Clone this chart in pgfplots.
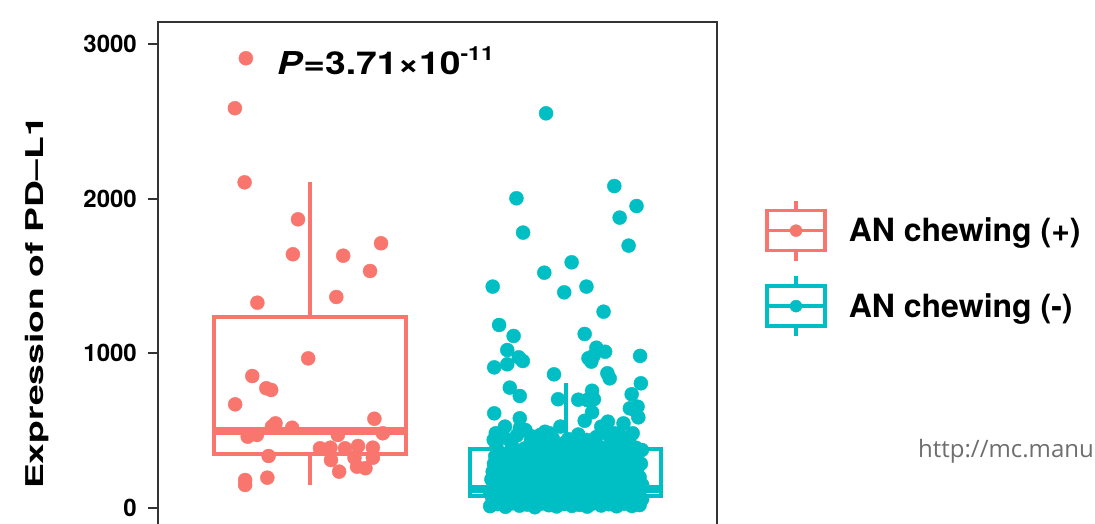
\documentclass[border=0pt]{standalone}
\usepackage{pgfplots}
\pgfplotsset{compat=1.18}
\usepackage{pgfplotstable}
\usepackage{fontspec}
\setmainfont{TeX Gyre Heros}
\newfontfamily\wmfont{Open Sans}
\definecolor{redc}{HTML}{F8766D}
\definecolor{tealc}{HTML}{00BFC4}
\definecolor{axc}{HTML}{333333}
\definecolor{wmc}{HTML}{6E6E6E}

\pgfplotstableread{
x y
0.749 2907
0.706 2584
0.744 2105
0.953 1866
1.278 1711
0.933 1640
1.130 1631
1.235 1532
1.103 1364
0.794 1327
0.993 967
0.774 853
0.829 774
0.848 763
0.707 670
1.252 577
0.865 547
0.851 526
0.930 519
0.756 461
0.792 472
1.109 472
1.285 483
0.838 336
1.039 386
1.080 390
1.137 386
1.188 401
1.246 390
1.082 310
1.174 325
1.246 325
1.114 235
1.184 267
1.217 257
0.833 196
0.746 181
0.746 149
}\redpts

\pgfplotstableread{
x y
1.924 2551
1.808 2002
2.191 2081
2.278 1952
2.212 1877
1.834 1780
2.247 1696
2.024 1588
1.917 1521
1.715 1431
1.995 1394
2.082 1431
2.149 1269
1.740 1183
1.797 1112
2.075 1125
1.772 1021
2.121 1036
2.155 1010
1.817 974
1.833 950
2.292 983
1.721 909
1.772 929
2.101 946
2.110 985
2.090 968
1.955 864
2.164 871
2.173 838
2.295 806
1.782 778
1.821 724
2.104 758
1.971 703
2.050 700
2.085 698
2.111 703
2.259 735
2.282 655
2.270 634
2.252 644
2.285 586
1.721 612
1.821 580
2.075 564
2.104 619
2.227 547
2.166 558
2.140 526
1.763 526
1.821 515
1.843 504
1.980 526
1.920 493
2.263 483
1.727 483
1.719 440
1.901 472
1.937 483
1.865 440
1.995 418
2.082 440
2.191 483
2.299 375
1.760 455
1.810 470
1.870 462
1.950 450
2.010 445
2.050 475
2.120 458
2.170 468
2.210 480
2.250 452
1.730 392
1.790 405
1.840 385
1.885 415
1.930 398
1.975 380
2.020 410
2.060 395
2.100 420
2.145 388
2.185 402
2.230 412
2.275 390
1.725 335
1.770 348
1.815 330
1.855 352
1.900 340
1.940 345
1.985 332
2.030 355
2.065 338
2.105 350
2.150 333
2.190 346
2.235 341
2.270 354
1.720 285
1.760 298
1.800 280
1.840 302
1.875 290
1.910 278
1.950 300
1.990 287
2.030 295
2.070 283
2.100 305
2.140 289
2.180 297
2.220 281
2.260 293
2.295 286
1.715 235
1.760 248
1.795 230
1.830 252
1.865 238
1.900 245
1.935 228
1.970 255
2.005 240
2.040 233
2.075 250
2.110 236
2.145 246
2.180 231
2.215 253
2.250 239
2.280 244
1.710 185
1.745 198
1.780 180
1.810 202
1.840 188
1.875 195
1.910 178
1.945 205
1.980 190
2.015 183
2.045 200
2.080 187
2.110 196
2.140 181
2.170 203
2.205 189
2.235 194
2.265 184
2.290 199
1.720 140
1.755 152
1.785 135
1.815 158
1.845 146
1.875 138
1.905 160
1.940 143
1.970 150
2.000 137
2.030 155
2.060 148
2.090 142
2.120 157
2.150 139
2.180 151
2.210 145
2.240 159
2.270 136
2.300 149
1.705 95
1.740 108
1.770 92
1.800 112
1.830 100
1.860 88
1.890 105
1.920 115
1.950 97
1.975 102
2.005 110
2.035 90
2.065 104
2.095 98
2.130 113
2.160 94
2.190 107
2.220 99
2.250 111
2.285 96
1.715 55
1.750 68
1.780 48
1.810 62
1.840 72
1.870 50
1.895 65
1.925 58
1.955 45
1.980 70
2.010 60
2.040 52
2.070 66
2.100 49
2.125 63
2.155 74
2.185 56
2.215 61
2.245 47
2.275 69
2.300 58
1.705 12
1.735 25
1.765 8
1.790 30
1.820 15
1.850 22
1.880 5
1.905 28
1.935 18
1.965 10
1.995 26
2.025 14
2.055 20
2.085 9
2.110 30
2.140 16
2.170 24
2.200 11
2.230 27
2.260 13
2.290 19
}\tealpts

\begin{document}
\begin{tikzpicture}
\begin{axis}[
  at={(0pt,0pt)}, anchor=south west,
  scale only axis, width=559pt, height=509.3pt,
  xmin=0.405, xmax=2.593, ymin=-150, ymax=3142,
  xtick=\empty, ytick={0,1000,2000,3000}, ytick pos=left,
  tick align=outside, major tick length=10pt,
  every tick/.style={axc, line width=2pt},
  axis line style={axc, line width=2pt},
  yticklabel style={font=\fontsize{24}{24}\selectfont\bfseries, inner sep=0pt, xshift=-11pt},
  /pgf/number format/assume math mode=true,
  /pgf/number format/1000 sep={},
  ylabel={\scalebox{1.52}[1]{Expression of PD--L1}},
  every axis y label/.style={at={(axis description cs:-0.216,0.449)}, rotate=90, anchor=center, font=\fontsize{24.5}{24.5}\selectfont\bfseries},
  legend style={at={(1.086,0.516)}, anchor=west, draw=none, fill=none, inner sep=0pt,
    font=\fontsize{32}{32}\selectfont\bfseries, row sep=12pt,
    /tikz/every odd column/.append style={column sep=20pt}},
  legend cell align=left,
]
% boxplot (+): whiskers, box, median
\addplot[forget plot, redc, line width=4pt] coordinates {(1,150) (1,349)};
\addplot[forget plot, redc, line width=4pt] coordinates {(1,1235) (1,2105)};
\addplot[forget plot, redc, line width=4pt, line join=miter] coordinates {(0.625,349) (1.375,349) (1.375,1235) (0.625,1235) (0.625,349) (1.375,349)};
\addplot[forget plot, redc, line width=8pt] coordinates {(0.625,498) (1.375,498)};
% boxplot (-)
\addplot[forget plot, tealc, line width=4pt] coordinates {(2,5) (2,78)};
\addplot[forget plot, tealc, line width=4pt] coordinates {(2,381) (2,806)};
\addplot[forget plot, tealc, line width=4pt, line join=miter] coordinates {(1.625,78) (2.375,78) (2.375,381) (1.625,381) (1.625,78) (2.375,78)};
\addplot[forget plot, tealc, line width=8pt] coordinates {(1.625,120) (2.375,120)};
\addplot[forget plot, only marks, mark=*, mark size=7pt, color=redc, mark options={draw=none, fill=redc}] table[x=x, y=y] {\redpts};
\addplot[forget plot, only marks, mark=*, mark size=7pt, color=tealc, mark options={draw=none, fill=tealc}] table[x=x, y=y] {\tealpts};
\addlegendimage{legend image code/.code={
  \draw[redc, line width=3.5pt] (29pt,-30pt) -- (29pt,-20pt) (29pt,20pt) -- (29pt,30pt);
  \draw[redc, line width=3.5pt] (0pt,-20pt) rectangle (58pt,20pt);
  \draw[redc, line width=3.5pt] (0pt,0pt) -- (58pt,0pt);
  \fill[redc] (29pt,0pt) circle (6pt);
}}
\addlegendentry{AN chewing (+)}
\addlegendimage{legend image code/.code={
  \draw[tealc, line width=3.5pt] (29pt,-30pt) -- (29pt,-20pt) (29pt,20pt) -- (29pt,30pt);
  \draw[tealc, line width=3.5pt] (0pt,-20pt) rectangle (58pt,20pt);
  \draw[tealc, line width=3.5pt] (0pt,0pt) -- (58pt,0pt);
  \fill[tealc] (29pt,0pt) circle (6pt);
}}
\addlegendentry{AN chewing (-)}
\node[anchor=base west, inner sep=0pt] at (rel axis cs:0.2129,0.897) {\scalebox{1.18}[1]{\fontsize{31.5}{31.5}\selectfont\bfseries\textit{P}=3.71×10\raisebox{13.6pt}{\fontsize{19.5}{19.5}\selectfont -11}}};
\end{axis}
\node[anchor=base west, inner sep=0pt, font=\wmfont\fontsize{24}{24}\selectfont, text=wmc] at (760pt,73.9pt) {http://mc.manu};
\pgfresetboundingbox
\useasboundingbox (-158pt,8.2pt) rectangle (937pt,531.2pt);
\end{tikzpicture}
\end{document}
